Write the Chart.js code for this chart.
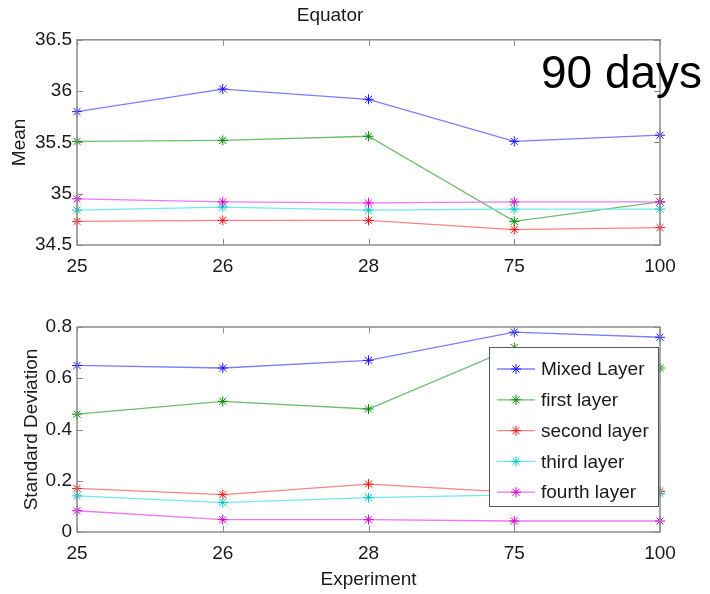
<!DOCTYPE html>
<html>
<head>
<meta charset="utf-8">
<script src="https://cdn.jsdelivr.net/npm/chart.js@4.4.1/dist/chart.umd.min.js"></script>
<style>
  html, body { margin: 0; padding: 0; background: #fff; }
  #wrap { position: relative; width: 710px; height: 594px; overflow: hidden; }
  canvas { position: absolute; left: 0; }
  #meanChart { top: 0; }
  #sdChart { top: 290px; }
  #note { position: absolute; left: 541px; top: 49px; font: 46px/46px "Liberation Sans", Arial, sans-serif; color: #000; white-space: nowrap; }
</style>
</head>
<body>
<div id="wrap">
  <canvas id="meanChart" width="710" height="290"></canvas>
  <canvas id="sdChart" width="710" height="304"></canvas>
  <div id="note">90 days</div>
</div>
<script>
// experiments on the x axis
const experiments = ['25', '26', '28', '75', '100'];
const layerNames = ['Mixed Layer', 'first layer', 'second layer', 'third layer', 'fourth layer'];

// mean values (top panel)
const meanMixed  = [35.80, 36.02, 35.92, 35.51, 35.57];
const meanFirst  = [35.51, 35.52, 35.56, 34.73, 34.92];
const meanSecond = [34.73, 34.74, 34.74, 34.65, 34.67];
const meanThird  = [34.84, 34.87, 34.84, 34.85, 34.85];
const meanFourth = [34.95, 34.92, 34.91, 34.92, 34.92];

// standard deviation (bottom panel)
const sdMixed  = [0.65, 0.64, 0.67, 0.78, 0.76];
const sdFirst  = [0.46, 0.51, 0.48, 0.72, 0.64];
const sdSecond = [0.17, 0.146, 0.187, 0.155, 0.159];
const sdThird  = [0.141, 0.115, 0.134, 0.145, 0.15];
const sdFourth = [0.083, 0.048, 0.048, 0.043, 0.043];

const meanTicks = [34.5, 35, 35.5, 36, 36.5];
const sdTicks = [0, 0.2, 0.4, 0.6, 0.8];

const lineColors = ['rgb(125,125,255)', 'rgb(110,190,110)', 'rgb(255,130,130)', 'rgb(110,235,235)', 'rgb(240,120,240)'];
const markColors = ['rgb(20,20,255)', 'rgb(0,140,0)', 'rgb(255,20,20)', 'rgb(0,200,200)', 'rgb(210,0,210)'];

const FONT = '"Liberation Sans", Arial, Helvetica, sans-serif';
const TEXT = '#1a1a1a';

function drawStar(ctx, x, y, r) {
  ctx.beginPath();
  ctx.moveTo(x - r, y); ctx.lineTo(x + r, y);
  ctx.moveTo(x, y - r); ctx.lineTo(x, y + r);
  const d = r * 0.707;
  ctx.moveTo(x - d, y - d); ctx.lineTo(x + d, y + d);
  ctx.moveTo(x - d, y + d); ctx.lineTo(x + d, y - d);
  ctx.stroke();
}

// matlab style box with inward ticks on all four sides
const boxTicks = {
  id: 'boxTicks',
  afterDatasetsDraw(chart) {
    const { ctx, chartArea: a } = chart;
    const xs = chart.scales.x, ys = chart.scales.y;
    ctx.save();
    ctx.strokeStyle = '#8c8c8c';
    ctx.lineWidth = 1.5;
    ctx.strokeRect(a.left, a.top, a.width, a.height);
    ctx.lineWidth = 1;
    ctx.beginPath();
    xs.ticks.forEach((t, i) => {
      const px = Math.round(xs.getPixelForTick(i)) + 0.5;
      ctx.moveTo(px, a.bottom); ctx.lineTo(px, a.bottom - 6);
      ctx.moveTo(px, a.top); ctx.lineTo(px, a.top + 6);
    });
    ys.ticks.forEach(t => {
      const py = Math.round(ys.getPixelForValue(t.value)) + 0.5;
      ctx.moveTo(a.left, py); ctx.lineTo(a.left + 6, py);
      ctx.moveTo(a.right, py); ctx.lineTo(a.right - 6, py);
    });
    ctx.stroke();
    ctx.restore();
  }
};

// legend box drawn inside the plot area, like the matlab one
const insideLegend = {
  id: 'insideLegend',
  afterDraw(chart) {
    const { ctx, chartArea: a } = chart;
    const w = 169, h = 159;
    const x0 = a.right - w - 2, y0 = a.top + 20;
    ctx.save();
    ctx.fillStyle = '#fff';
    ctx.fillRect(x0, y0, w, h);
    ctx.strokeStyle = '#555';
    ctx.lineWidth = 1;
    ctx.strokeRect(x0 + 0.5, y0 + 0.5, w, h);
    ctx.font = '19px ' + FONT;
    ctx.textBaseline = 'middle';
    ctx.textAlign = 'left';
    chart.data.datasets.forEach((ds, i) => {
      const y = y0 + 22 + i * 30.8;
      ctx.strokeStyle = ds.borderColor;
      ctx.lineWidth = 1.3;
      ctx.beginPath();
      ctx.moveTo(x0 + 8, y); ctx.lineTo(x0 + 46, y);
      ctx.stroke();
      ctx.strokeStyle = ds.pointBorderColor;
      ctx.lineWidth = 1;
      drawStar(ctx, x0 + 27, y, 5);
      ctx.fillStyle = TEXT;
      ctx.fillText(ds.label, x0 + 52, y + 1);
    });
    ctx.restore();
  }
};

function makeDatasets(series) {
  return series.map((vals, i) => ({
    label: layerNames[i],
    data: vals,
    borderColor: lineColors[i],
    borderWidth: 1.3,
    pointStyle: 'star',
    pointRadius: 5,
    pointBorderWidth: 1,
    pointBorderColor: markColors[i],
    pointBackgroundColor: markColors[i],
    tension: 0,
    fill: false,
    clip: false,
    order: series.length - i
  }));
}

function fmt(v) {
  return String(+v.toFixed(2));
}

function yScale(tickValues, titleText, titlePad, fitWidth) {
  return {
    min: tickValues[0],
    max: tickValues[tickValues.length - 1],
    afterBuildTicks: s => { s.ticks = tickValues.map(v => ({ value: v })); },
    afterFit: s => { s.width = fitWidth; },
    grid: { display: false, drawTicks: false },
    border: { display: false },
    ticks: { padding: 5, color: TEXT, font: { family: FONT, size: 19 }, callback: v => fmt(v) },
    title: { display: true, text: titleText, color: TEXT, font: { family: FONT, size: 19 }, padding: { top: titlePad, bottom: 0 } }
  };
}

const meanCtx = document.getElementById('meanChart').getContext('2d');
new Chart(meanCtx, {
  type: 'line',
  data: {
    labels: experiments,
    datasets: makeDatasets([meanMixed, meanFirst, meanSecond, meanThird, meanFourth])
  },
  options: {
    responsive: false,
    animation: false,
    layout: { padding: { left: 0, right: 50, top: 0, bottom: 0 } },
    plugins: {
      legend: { display: false },
      tooltip: { enabled: false },
      title: { display: true, text: 'Equator', color: TEXT, font: { family: FONT, size: 19, weight: 'normal' }, padding: { top: 4, bottom: 13 } }
    },
    scales: {
      x: {
        afterFit: s => { s.height = 45; },
        grid: { display: false, drawTicks: false },
        border: { display: false },
        ticks: { padding: 10, color: TEXT, font: { family: FONT, size: 19 }, maxRotation: 0, autoSkip: false }
      },
      y: yScale(meanTicks, 'Mean', 8, 77)
    }
  },
  plugins: [boxTicks]
});

const sdCtx = document.getElementById('sdChart').getContext('2d');
new Chart(sdCtx, {
  type: 'line',
  data: {
    labels: experiments,
    datasets: makeDatasets([sdMixed, sdFirst, sdSecond, sdThird, sdFourth])
  },
  options: {
    responsive: false,
    animation: false,
    layout: { padding: { left: 0, right: 50, top: 37, bottom: 0 } },
    plugins: {
      legend: { display: false },
      tooltip: { enabled: false }
    },
    scales: {
      x: {
        afterFit: s => { s.height = 62; },
        grid: { display: false, drawTicks: false },
        border: { display: false },
        ticks: { padding: 10, color: TEXT, font: { family: FONT, size: 19 }, maxRotation: 0, autoSkip: false },
        title: { display: true, text: 'Experiment', color: TEXT, font: { family: FONT, size: 19 }, padding: { top: 0, bottom: 3 } }
      },
      y: yScale(sdTicks, 'Standard Deviation', 20, 77)
    }
  },
  plugins: [boxTicks, insideLegend]
});
</script>
</body>
</html>
